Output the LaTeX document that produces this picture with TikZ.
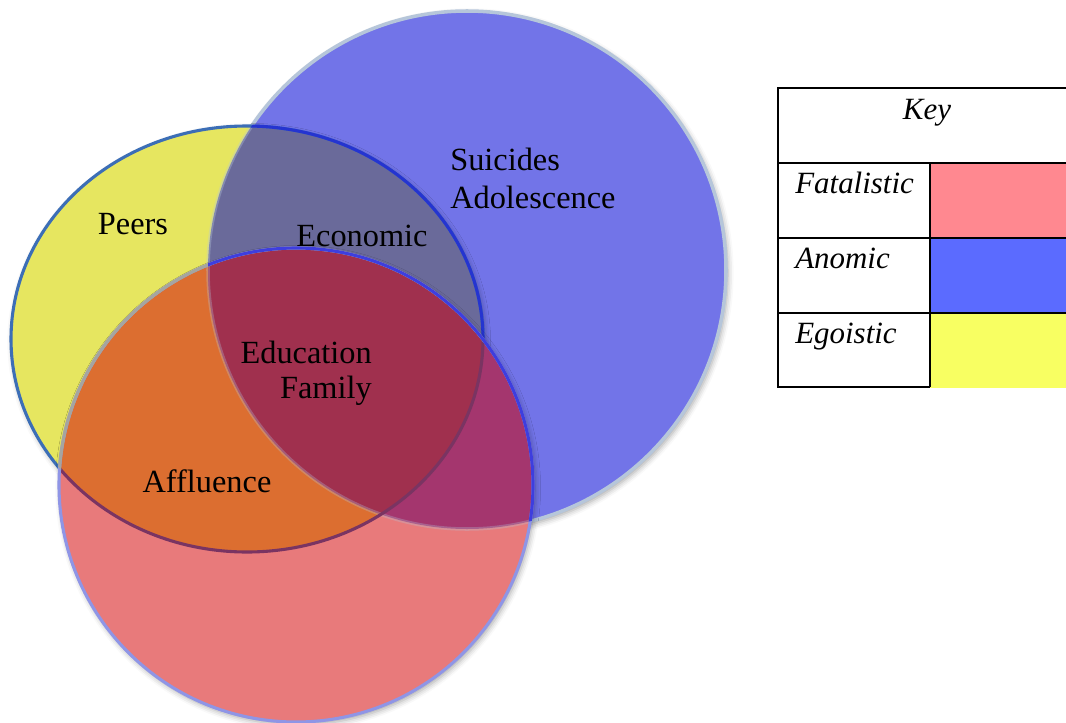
\documentclass[tikz,border=0pt]{standalone}
\usepackage{fontspec}
\setmainfont{Liberation Serif}
\usepackage{tikz}
\usetikzlibrary{shadows.blur}
\usepackage{xcolor}
% region fills
\definecolor{anomic}{RGB}{114,116,232}
\definecolor{egoistic}{RGB}{230,230,96}
\definecolor{egoanomic}{RGB}{106,106,154}
\definecolor{fatalistic}{RGB}{232,122,123}
\definecolor{fatalego}{RGB}{220,110,48}
\definecolor{fatalanomic}{RGB}{164,54,110}
\definecolor{fatalall}{RGB}{160,48,78}
% outlines
\definecolor{anomicrim}{RGB}{182,198,218}
\definecolor{egorim}{RGB}{60,110,182}
\definecolor{egorimdark}{RGB}{37,52,208}
\definecolor{egorimred}{RGB}{122,52,98}
\definecolor{fatalrim}{RGB}{143,149,230}
\definecolor{fatalrimgrey}{RGB}{165,165,160}
\definecolor{fatalrimdark}{RGB}{62,62,222}
% key swatches
\definecolor{fatalkey}{RGB}{255,136,144}
\definecolor{anomickey}{RGB}{91,107,255}
\definecolor{egokey}{RGB}{248,255,98}
\tikzstyle{softshadow} = [blur shadow={shadow xshift=1.4pt, shadow yshift=-2.1pt, shadow blur radius=4pt, shadow opacity=35}]
\tikzstyle{venntext} = [inner sep=0pt, text=black, font=\fontsize{23}{27}\selectfont]
\tikzstyle{keytext} = [inner sep=0pt, font=\fontsize{22}{26}\selectfont\itshape]
\tikzstyle{keyline} = [line width=1.4pt, draw=black]
\newcommand{\anomicpath}{(467,270) circle [radius=259]}
\newcommand{\egoisticpath}{(247,339) ellipse [x radius=236, y radius=213]}
\newcommand{\fatalpath}{(296,485) circle [radius=237]}

\begin{document}
\begin{tikzpicture}[x=0.025cm,y=-0.025cm]
\useasboundingbox (0,0) rectangle (1066,723);
% Anomic circle
\fill[anomic, softshadow] \anomicpath;
\draw[anomicrim, line width=2.5pt] \anomicpath;
% Egoistic ellipse
\fill[egoistic, softshadow] \egoisticpath;
\begin{scope}
\clip \anomicpath;
\fill[egoanomic] \egoisticpath;
\end{scope}
\begin{scope}
\clip \egoisticpath;
\draw[anomicrim, line width=2.5pt, draw opacity=.35] \anomicpath;
\end{scope}
\draw[egorim, line width=2.2pt] \egoisticpath;
\begin{scope}
\clip \anomicpath;
\draw[egorimdark, line width=2.2pt] \egoisticpath;
\end{scope}
% Fatalistic circle
\fill[fatalistic, softshadow] \fatalpath;
\begin{scope}
\clip \fatalpath;
\fill[fatalego] \egoisticpath;
\fill[fatalanomic] \anomicpath;
\clip \anomicpath;
\fill[fatalall] \egoisticpath;
\end{scope}
\begin{scope}
\clip \fatalpath;
\draw[anomicrim, line width=2.5pt, draw opacity=.3] \anomicpath;
\draw[egorimred, line width=2.2pt] \egoisticpath;
\end{scope}
\draw[fatalrim, line width=2.2pt] \fatalpath;
\begin{scope}
\clip \egoisticpath;
\draw[fatalrimgrey, line width=2.2pt] \fatalpath;
\end{scope}
\begin{scope}
\clip \anomicpath;
\draw[fatalrimdark, line width=2.2pt] \fatalpath;
\end{scope}

% labels
\node[venntext, anchor=base] (peers) at (133,234) {Peers};
\node[venntext, anchor=base] (economic) at (362,246) {Economic};
\node[venntext, anchor=base west, align=left] (suicides) at (450,208) {Suicides\\Adolescence};
\node[venntext, anchor=base east, align=right] (education) at (372,398) {Education\\[-2.2pt]Family};
\node[venntext, anchor=base] (affluence) at (207,492) {Affluence};

% Key
\draw[keyline] (1080,88) -- (778,88) -- (778,387) -- (1080,387);
\node[keytext, anchor=base] (keytitle) at (927,119) {Key};
\foreach \name/\col [count=\i] in {Fatalistic/fatalkey, Anomic/anomickey, Egoistic/egokey} {
  \fill[\col] (930,{88+75*\i}) rectangle (1080,{163+75*\i});
  \draw[keyline] (778,{88+75*\i}) -- (1080,{88+75*\i});
  \node[keytext, anchor=base west] (key\i) at (795,{118+75*\i}) {\name};
}
\draw[keyline] (930,163) -- (930,387);
\end{tikzpicture}
\end{document}
